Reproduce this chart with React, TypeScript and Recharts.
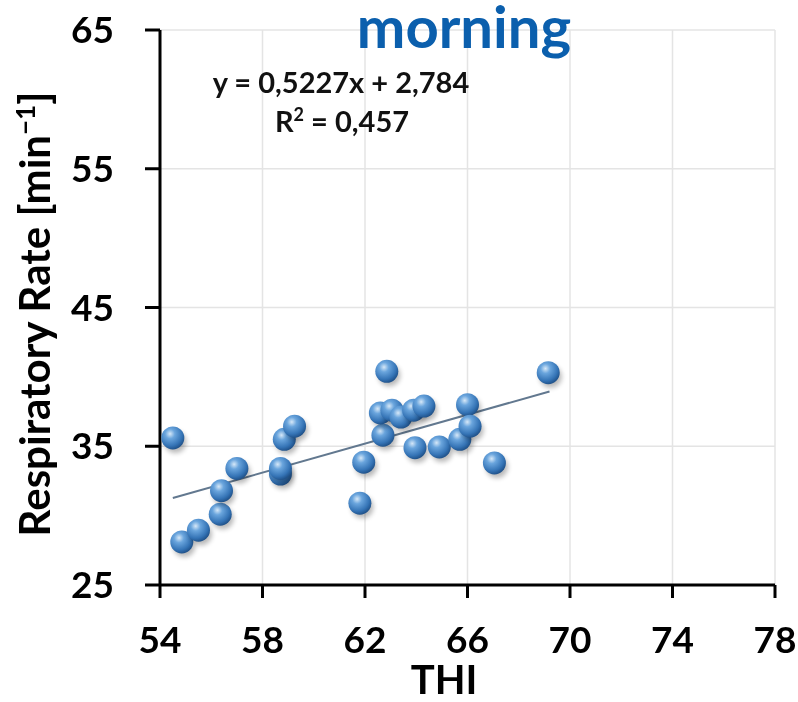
import React from "react";
import {
  ScatterChart,
  Scatter,
  XAxis,
  YAxis,
  CartesianGrid,
} from "recharts";

const thiValues = [
  54.5, 54.85, 55.5, 56.35, 56.4, 57.0, 58.7, 58.7, 58.85, 59.25, 61.8, 61.95,
  62.7, 62.6, 62.85, 63.05, 63.4, 63.9, 63.95, 64.3, 64.9, 65.7, 66.0, 66.1,
  67.05, 69.15,
];
const rrValues = [
  35.6, 28.1, 28.95, 30.1, 31.8, 33.4, 33.0, 33.4, 35.5, 36.45, 30.9, 33.85,
  35.8, 37.4, 40.4, 37.6, 37.1, 37.6, 34.9, 37.9, 34.95, 35.5, 38.0, 36.45,
  33.8, 40.3,
];

// ends of the linear trend line
const trendThi = [54.5, 69.2];
const trendRr = [31.27, 38.95];

const xTicks = [54, 58, 62, 66, 70, 74, 78];
const yTicks = [25, 35, 45, 55, 65];

const points = thiValues.map((x, i) => ({ x, y: rrValues[i] }));
const trend = trendThi.map((x, i) => ({ x, y: trendRr[i] }));

const FONT = "Lato, 'Open Sans', sans-serif";

const Ball = (props: any) => {
  const { cx, cy } = props;
  if (cx == null || cy == null) return <g />;
  return (
    <g>
      <circle cx={cx + 2.5} cy={cy + 4} r={11} fill="#000" opacity={0.28} filter="url(#ballShadow)" />
      <circle cx={cx} cy={cy} r={11.5} fill="url(#ballGrad)" />
    </g>
  );
};

const NoShape = () => <g />;

export default function App() {
  // pinned to the window corner so the body margin adds no scrollbar
  return (
    <div style={{ position: "fixed", left: 0, top: 0, width: 798, height: 702, overflow: "hidden" }}>
      <ScatterChart
        width={798}
        height={702}
        margin={{ top: 30, right: 23, bottom: 37, left: 0 }}
      >
        <defs>
          <radialGradient id="ballGrad" cx="38%" cy="32%" r="70%">
            <stop offset="0%" stopColor="#d6e8f8" />
            <stop offset="30%" stopColor="#6aa5dd" />
            <stop offset="75%" stopColor="#3574b6" />
            <stop offset="100%" stopColor="#1f5189" />
          </radialGradient>
          <filter id="ballShadow" x="-50%" y="-50%" width="200%" height="200%">
            <feGaussianBlur stdDeviation="2.5" />
          </filter>
        </defs>
        <CartesianGrid stroke="#e4e4e4" strokeWidth={1.5} />
        <XAxis
          type="number"
          dataKey="x"
          domain={[54, 78]}
          ticks={xTicks}
          interval={0}
          height={80}
          tickSize={13}
          tickMargin={29}
          axisLine={{ stroke: "#000", strokeWidth: 3 }}
          tickLine={{ stroke: "#000", strokeWidth: 3 }}
          tick={{ fill: "#000", fontSize: 37, fontWeight: 700, fontFamily: FONT }}
        />
        <YAxis
          type="number"
          dataKey="y"
          domain={[25, 65]}
          ticks={yTicks}
          interval={0}
          width={160}
          tickSize={15}
          tickMargin={31}
          axisLine={{ stroke: "#000", strokeWidth: 3 }}
          tickLine={{ stroke: "#000", strokeWidth: 3 }}
          tick={{ fill: "#000", fontSize: 37, fontWeight: 700, fontFamily: FONT }}
        />
        <Scatter
          data={trend}
          line={{ stroke: "#62788f", strokeWidth: 2 }}
          shape={NoShape}
          isAnimationActive={false}
        />
        <Scatter data={points} shape={Ball} isAnimationActive={false} />
        <text
          x={464}
          y={48}
          textAnchor="middle"
          fill="#0b5fad"
          fontSize={58}
          fontWeight={700}
          fontFamily={FONT}
        >
          morning
        </text>
        <text
          x={341}
          y={93}
          textAnchor="middle"
          fill="#111"
          fontSize={29}
          fontWeight={700}
          fontFamily={FONT}
        >
          y = 0,5227x + 2,784
        </text>
        <text
          x={342}
          y={132}
          textAnchor="middle"
          fill="#111"
          fontSize={29}
          fontWeight={700}
          fontFamily={FONT}
        >
          R<tspan dy={-11} fontSize={18}>2</tspan>
          <tspan dy={11}> = 0,457</tspan>
        </text>
        <text
          x={444}
          y={694}
          textAnchor="middle"
          fill="#000"
          fontSize={40}
          fontWeight={700}
          fontFamily={FONT}
        >
          THI
        </text>
        <text
          transform="translate(50, 314) rotate(-90)"
          textAnchor="middle"
          fill="#000"
          fontSize={42}
          fontWeight={700}
          fontFamily={FONT}
        >
          Respiratory Rate [min<tspan dy={-15} fontSize={26}>−1</tspan>
          <tspan dy={15}>]</tspan>
        </text>
      </ScatterChart>
    </div>
  );
}
